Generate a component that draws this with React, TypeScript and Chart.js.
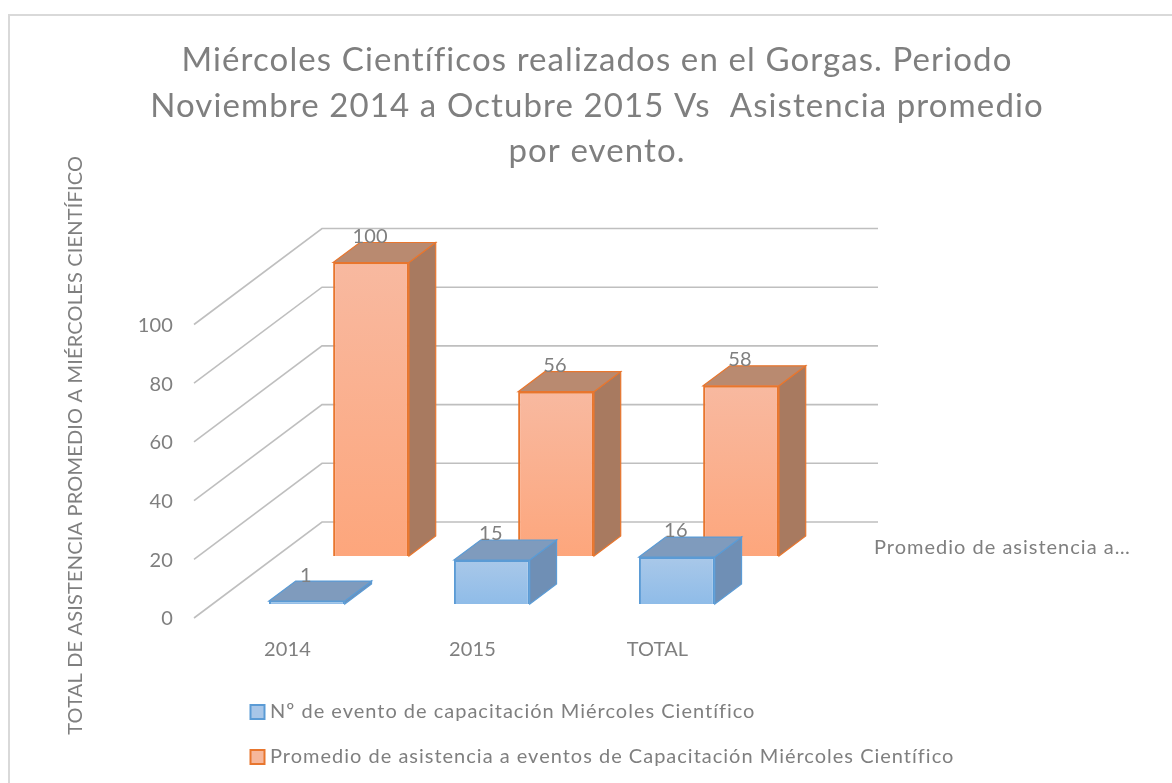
import React, { useEffect, useRef } from "react";
import { Chart, registerables } from "chart.js";

Chart.register(...registerables);

const categories = ["2014", "2015", "TOTAL"];
const eventCounts = [1, 15, 16];
const avgAttendance = [100, 56, 58];
const seriesNames = [
  "Nº de evento de capacitación Miércoles Científico",
  "Promedio de asistencia a eventos de Capacitación Miércoles Científico",
];
const depthLabel = "Promedio de asistencia a…";
const titleLines = [
  "Miércoles Científicos realizados en el Gorgas. Periodo",
  "Noviembre 2014 a Octubre 2015 Vs  Asistencia promedio",
  "por evento.",
];
const yAxisTitle = "TOTAL DE ASISTENCIA PROMEDIO A MIÉRCOLES CIENTÍFICO";

const FONT = "Lato, 'Open Sans', sans-serif";
const TEXT = "#7f7f7f";
const WALL_DX = 127;
const WALL_DY = -95;
const X_NUDGE = 2;
const BASE_SPACING = "0.17px";
const LEGEND_FILLS = ["#a8c6e8", "#f6b79b"];
// Depth slots of each series as fractions of the floor depth [front, back]
const SLOTS = [
  { front: 13 / 95, back: 33 / 95, side: "#6f8fb5", top: "#7f9bbd", edge: "#5b9bd5" },
  { front: 61 / 95, back: 81 / 95, side: "#a87a60", top: "#b98a70", edge: "#e8762e" },
];

function face(ctx: CanvasRenderingContext2D, pts: number[][], fill: string, edge: string) {
  ctx.beginPath();
  pts.forEach((p, i) => (i ? ctx.lineTo(p[0], p[1]) : ctx.moveTo(p[0], p[1])));
  ctx.closePath();
  ctx.fillStyle = fill;
  ctx.fill();
  ctx.strokeStyle = edge;
  ctx.lineWidth = 1.2;
  ctx.stroke();
}

const frontGradient = (stops: string[], flat: string) => (c: any) => {
  const { chart, parsed } = c;
  if (c.type !== "data" || !parsed || !chart.scales.y) return flat;
  const y = chart.scales.y;
  const p0 = y.getPixelForValue(parsed.y);
  const p1 = y.getPixelForValue(0);
  if (!Number.isFinite(p0) || !Number.isFinite(p1)) return flat;
  const g = chart.ctx.createLinearGradient(0, p0, 0, p1);
  g.addColorStop(0, stops[0]);
  g.addColorStop(1, stops[1]);
  return g;
};

function spaced(box: any, ctx: any, spacing: string) {
  if (box.__spaced) return;
  box.__spaced = true;
  const draw = box.draw;
  box.draw = function (...a: any[]) {
    ctx.letterSpacing = spacing;
    draw.apply(box, a);
    ctx.letterSpacing = BASE_SPACING;
  };
}

const bars3d = {
  id: "bars3d",
  beforeDraw(chart: any) {
    const { ctx, width, height } = chart;
    ctx.letterSpacing = BASE_SPACING;
    ctx.save();
    ctx.fillStyle = "#ffffff";
    ctx.fillRect(0, 0, width, height);
    ctx.strokeStyle = "#d9d9d9";
    ctx.lineWidth = 2;
    ctx.strokeRect(9, 15, width + 20, height + 20);
    ctx.restore();
  },
  beforeDatasetsDraw(chart: any) {
    const { ctx, scales } = chart;
    const { x, y } = scales;
    ctx.save();
    ctx.strokeStyle = "#bfbfbf";
    ctx.lineWidth = 1.6;
    for (const t of y.ticks) {
      const py = y.getPixelForValue(t.value);
      ctx.beginPath();
      ctx.moveTo(x.left - 1, py + 1);
      ctx.lineTo(x.left + WALL_DX, py + WALL_DY);
      ctx.lineTo(x.left + 683, py + WALL_DY);
      ctx.stroke();
    }
    ctx.fillStyle = TEXT;
    ctx.font = `20px ${FONT}`;
    ctx.letterSpacing = "1px";
    ctx.textAlign = "left";
    ctx.textBaseline = "middle";
    ctx.fillText(depthLabel, x.right + 124, y.getPixelForValue(0) - 69);
    ctx.restore();
  },
  beforeDatasetDraw(chart: any, args: any) {
    const slot = SLOTS[args.index];
    const { ctx } = chart;
    const fx = X_NUDGE + slot.front * WALL_DX;
    const fy = slot.front * WALL_DY;
    const ddx = (slot.back - slot.front) * WALL_DX;
    const ddy = (slot.back - slot.front) * WALL_DY;
    ctx.save();
    ctx.translate(fx, fy);
    for (const bar of args.meta.data) {
      const l = bar.x - bar.width / 2;
      const r = bar.x + bar.width / 2;
      const t = bar.y;
      const b = bar.base;
      face(ctx, [[r, t], [r + ddx, t + ddy], [r + ddx, b + ddy], [r, b]], slot.side, slot.edge);
      face(ctx, [[l, t], [l + ddx, t + ddy], [r + ddx, t + ddy], [r, t]], slot.top, slot.edge);
    }
  },
  afterDatasetDraw(chart: any, args: any) {
    const { ctx } = chart;
    ctx.fillStyle = TEXT;
    ctx.font = `20px ${FONT}`;
    ctx.textAlign = "center";
    ctx.textBaseline = "middle";
    const ds = chart.data.datasets[args.index];
    args.meta.data.forEach((bar: any, i: number) => {
      ctx.fillText(String(ds.data[i]), bar.x - 1, bar.y - 26);
    });
    ctx.restore();
  },
  afterLayout(chart: any) {
    const legend = chart.legend;
    legend.left = 230;
    legend.top = 677;
    legend.adjustHitBoxes();
    spaced(legend, chart.ctx, "1px");
    spaced(chart.titleBlock, chart.ctx, "1.1px");
  },
};

export default function App() {
  const ref = useRef<HTMLCanvasElement>(null);
  useEffect(() => {
    document.body.style.margin = "0";
    document.body.style.background = "#ffffff";
    const chart = new Chart(ref.current as HTMLCanvasElement, {
      type: "bar",
      data: {
        labels: categories,
        datasets: [
          {
            label: seriesNames[0],
            data: eventCounts,
            backgroundColor: frontGradient(["#a9c8e9", "#8fbce8"], LEGEND_FILLS[0]),
            borderColor: "#5b9bd5",
            borderWidth: 2,
            grouped: false,
            barPercentage: 0.41,
            categoryPercentage: 1,
            clip: false,
          },
          {
            label: seriesNames[1],
            data: avgAttendance,
            backgroundColor: frontGradient(["#f8b9a0", "#fda67c"], LEGEND_FILLS[1]),
            borderColor: "#e8762e",
            borderWidth: 2,
            grouped: false,
            barPercentage: 0.41,
            categoryPercentage: 1,
            clip: false,
          },
        ] as any,
      },
      options: {
        responsive: false,
        animation: false,
        layout: { padding: { left: 64, right: 42, top: 0, bottom: 0 } },
        plugins: {
          tooltip: { enabled: false },
          title: {
            display: true,
            text: titleLines,
            color: TEXT,
            font: { family: FONT, size: 33, weight: "normal", lineHeight: 1.38 },
            padding: { top: 38, bottom: 99 },
          },
          legend: {
            position: "bottom",
            align: "start",
            labels: {
              color: TEXT,
              font: { family: FONT, size: 20 },
              usePointStyle: true,
              pointStyle: "rect",
              boxWidth: 5,
              boxHeight: 14,
              padding: 25,
              generateLabels(chart: any) {
                const items = Chart.defaults.plugins.legend.labels.generateLabels(chart);
                return items.map((it: any, i: number) => ({ ...it, fillStyle: LEGEND_FILLS[i] }));
              },
            },
          },
        },
        scales: {
          x: {
            position: "bottom",
            grid: { display: false },
            border: { display: false },
            ticks: { color: TEXT, font: { family: FONT, size: 20 }, padding: 13, maxRotation: 0 },
            afterFit(s: any) { s.height = 66; },
          },
          y: {
            position: "left",
            min: 0,
            max: 117,
            grid: { display: false, drawTicks: false },
            border: { display: false },
            ticks: { stepSize: 20, includeBounds: false, color: TEXT, font: { family: FONT, size: 20 }, padding: 22, labelOffset: 2 },
            title: { display: true, text: yAxisTitle, color: TEXT, font: { family: FONT, size: 20 }, padding: 0 },
            afterFit(s: any) { s.width = 131; },
          },
          depth: {
            position: "right",
            display: true,
            min: 0,
            max: 1,
            grid: { display: false, drawTicks: false },
            border: { display: false },
            ticks: { display: false },
            afterFit(s: any) { s.width = 380; },
          },
        },
      } as any,
      plugins: [bars3d],
    });
    return () => chart.destroy();
  }, []);
  return <canvas ref={ref} width={1172} height={783} style={{ display: "block" }} />;
}
